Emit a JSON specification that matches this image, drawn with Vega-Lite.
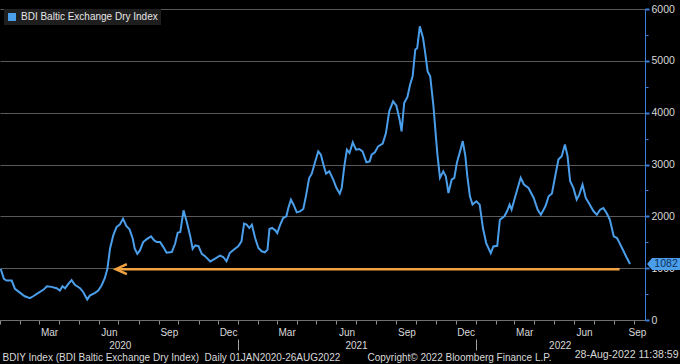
{
  "$schema": "https://vega.github.io/schema/vega-lite/v6.json",
  "width": 645,
  "height": 311,
  "autosize": {"type": "none"},
  "padding": {"left": 0, "top": 9, "right": 35, "bottom": 44},
  "background": "#000000",
  "config": {
    "view": {"stroke": null},
    "font": "Liberation Sans",
    "axis": {"labelFont": "Liberation Sans", "titleFont": "Liberation Sans"},
    "legend": {"labelFont": "Liberation Sans"}
  },
  "datasets": {
    "bdi": [
      {"date": "2020-01-02", "value": 990},
      {"date": "2020-01-07", "value": 794},
      {"date": "2020-01-11", "value": 761},
      {"date": "2020-01-19", "value": 761},
      {"date": "2020-01-24", "value": 600},
      {"date": "2020-02-01", "value": 523},
      {"date": "2020-02-08", "value": 458},
      {"date": "2020-02-16", "value": 420},
      {"date": "2020-02-21", "value": 458},
      {"date": "2020-02-29", "value": 523},
      {"date": "2020-03-08", "value": 587},
      {"date": "2020-03-13", "value": 652},
      {"date": "2020-03-20", "value": 639},
      {"date": "2020-03-28", "value": 613},
      {"date": "2020-04-02", "value": 568},
      {"date": "2020-04-06", "value": 652},
      {"date": "2020-04-10", "value": 613},
      {"date": "2020-04-15", "value": 697},
      {"date": "2020-04-20", "value": 768},
      {"date": "2020-04-25", "value": 678},
      {"date": "2020-05-03", "value": 613},
      {"date": "2020-05-08", "value": 536},
      {"date": "2020-05-14", "value": 394},
      {"date": "2020-05-18", "value": 471},
      {"date": "2020-05-26", "value": 523},
      {"date": "2020-05-31", "value": 568},
      {"date": "2020-06-05", "value": 665},
      {"date": "2020-06-10", "value": 806},
      {"date": "2020-06-14", "value": 987},
      {"date": "2020-06-18", "value": 1374},
      {"date": "2020-06-23", "value": 1632},
      {"date": "2020-06-28", "value": 1793},
      {"date": "2020-07-03", "value": 1839},
      {"date": "2020-07-08", "value": 1955},
      {"date": "2020-07-13", "value": 1813},
      {"date": "2020-07-18", "value": 1748},
      {"date": "2020-07-23", "value": 1568},
      {"date": "2020-07-26", "value": 1374},
      {"date": "2020-07-30", "value": 1277},
      {"date": "2020-08-03", "value": 1342},
      {"date": "2020-08-08", "value": 1503},
      {"date": "2020-08-13", "value": 1555},
      {"date": "2020-08-20", "value": 1613},
      {"date": "2020-08-25", "value": 1535},
      {"date": "2020-08-29", "value": 1503},
      {"date": "2020-09-03", "value": 1503},
      {"date": "2020-09-08", "value": 1406},
      {"date": "2020-09-13", "value": 1297},
      {"date": "2020-09-21", "value": 1310},
      {"date": "2020-09-26", "value": 1471},
      {"date": "2020-09-30", "value": 1684},
      {"date": "2020-10-04", "value": 1697},
      {"date": "2020-10-09", "value": 2116},
      {"date": "2020-10-14", "value": 1890},
      {"date": "2020-10-19", "value": 1632},
      {"date": "2020-10-23", "value": 1374},
      {"date": "2020-10-27", "value": 1439},
      {"date": "2020-11-01", "value": 1426},
      {"date": "2020-11-06", "value": 1277},
      {"date": "2020-11-11", "value": 1232},
      {"date": "2020-11-19", "value": 1129},
      {"date": "2020-11-26", "value": 1181},
      {"date": "2020-12-04", "value": 1241},
      {"date": "2020-12-09", "value": 1216},
      {"date": "2020-12-14", "value": 1132},
      {"date": "2020-12-19", "value": 1293},
      {"date": "2020-12-25", "value": 1357},
      {"date": "2021-01-01", "value": 1421},
      {"date": "2021-01-06", "value": 1518},
      {"date": "2021-01-10", "value": 1859},
      {"date": "2021-01-14", "value": 1839},
      {"date": "2021-01-18", "value": 1775},
      {"date": "2021-01-22", "value": 1839},
      {"date": "2021-01-27", "value": 1582},
      {"date": "2021-02-01", "value": 1389},
      {"date": "2021-02-06", "value": 1325},
      {"date": "2021-02-11", "value": 1306},
      {"date": "2021-02-15", "value": 1357},
      {"date": "2021-02-18", "value": 1756},
      {"date": "2021-02-22", "value": 1775},
      {"date": "2021-02-27", "value": 1730},
      {"date": "2021-03-02", "value": 1678},
      {"date": "2021-03-06", "value": 1820},
      {"date": "2021-03-11", "value": 1968},
      {"date": "2021-03-16", "value": 2000},
      {"date": "2021-03-19", "value": 2161},
      {"date": "2021-03-23", "value": 2322},
      {"date": "2021-03-27", "value": 2225},
      {"date": "2021-04-01", "value": 2077},
      {"date": "2021-04-06", "value": 2096},
      {"date": "2021-04-11", "value": 2141},
      {"date": "2021-04-15", "value": 2386},
      {"date": "2021-04-20", "value": 2739},
      {"date": "2021-04-24", "value": 2823},
      {"date": "2021-04-29", "value": 3042},
      {"date": "2021-05-04", "value": 3254},
      {"date": "2021-05-08", "value": 3190},
      {"date": "2021-05-12", "value": 2997},
      {"date": "2021-05-16", "value": 2823},
      {"date": "2021-05-21", "value": 2868},
      {"date": "2021-05-27", "value": 2707},
      {"date": "2021-06-01", "value": 2546},
      {"date": "2021-06-06", "value": 2437},
      {"date": "2021-06-09", "value": 2546},
      {"date": "2021-06-13", "value": 2965},
      {"date": "2021-06-17", "value": 3286},
      {"date": "2021-06-21", "value": 3222},
      {"date": "2021-06-26", "value": 3427},
      {"date": "2021-07-01", "value": 3286},
      {"date": "2021-07-06", "value": 3299},
      {"date": "2021-07-11", "value": 3254},
      {"date": "2021-07-17", "value": 3042},
      {"date": "2021-07-22", "value": 3061},
      {"date": "2021-07-25", "value": 3190},
      {"date": "2021-07-30", "value": 3235},
      {"date": "2021-08-04", "value": 3350},
      {"date": "2021-08-11", "value": 3402},
      {"date": "2021-08-16", "value": 3607},
      {"date": "2021-08-21", "value": 4025},
      {"date": "2021-08-27", "value": 4218},
      {"date": "2021-09-01", "value": 4135},
      {"date": "2021-09-06", "value": 3865},
      {"date": "2021-09-09", "value": 3640},
      {"date": "2021-09-13", "value": 4186},
      {"date": "2021-09-18", "value": 4302},
      {"date": "2021-09-22", "value": 4540},
      {"date": "2021-09-26", "value": 4701},
      {"date": "2021-09-30", "value": 5215},
      {"date": "2021-10-03", "value": 5247},
      {"date": "2021-10-07", "value": 5665},
      {"date": "2021-10-12", "value": 5440},
      {"date": "2021-10-15", "value": 5183},
      {"date": "2021-10-19", "value": 4797},
      {"date": "2021-10-23", "value": 4701},
      {"date": "2021-10-28", "value": 4122},
      {"date": "2021-11-01", "value": 3500},
      {"date": "2021-11-03", "value": 3200},
      {"date": "2021-11-07", "value": 2742},
      {"date": "2021-11-12", "value": 2868},
      {"date": "2021-11-16", "value": 2772},
      {"date": "2021-11-20", "value": 2450},
      {"date": "2021-11-25", "value": 2710},
      {"date": "2021-11-29", "value": 2742},
      {"date": "2021-12-03", "value": 3032},
      {"date": "2021-12-08", "value": 3258},
      {"date": "2021-12-12", "value": 3451},
      {"date": "2021-12-16", "value": 3161},
      {"date": "2021-12-19", "value": 2774},
      {"date": "2021-12-23", "value": 2387},
      {"date": "2021-12-27", "value": 2226},
      {"date": "2022-01-02", "value": 2290},
      {"date": "2022-01-07", "value": 2226},
      {"date": "2022-01-12", "value": 1774},
      {"date": "2022-01-17", "value": 1484},
      {"date": "2022-01-24", "value": 1290},
      {"date": "2022-01-28", "value": 1419},
      {"date": "2022-02-03", "value": 1432},
      {"date": "2022-02-07", "value": 1935},
      {"date": "2022-02-14", "value": 2000},
      {"date": "2022-02-18", "value": 2097},
      {"date": "2022-02-22", "value": 2226},
      {"date": "2022-02-25", "value": 2129},
      {"date": "2022-03-02", "value": 2355},
      {"date": "2022-03-08", "value": 2613},
      {"date": "2022-03-11", "value": 2742},
      {"date": "2022-03-16", "value": 2613},
      {"date": "2022-03-23", "value": 2548},
      {"date": "2022-03-31", "value": 2355},
      {"date": "2022-04-06", "value": 2129},
      {"date": "2022-04-11", "value": 2032},
      {"date": "2022-04-18", "value": 2193},
      {"date": "2022-04-23", "value": 2387},
      {"date": "2022-04-28", "value": 2439},
      {"date": "2022-05-03", "value": 2774},
      {"date": "2022-05-08", "value": 3097},
      {"date": "2022-05-13", "value": 3161},
      {"date": "2022-05-18", "value": 3387},
      {"date": "2022-05-22", "value": 3161},
      {"date": "2022-05-26", "value": 2677},
      {"date": "2022-05-31", "value": 2548},
      {"date": "2022-06-05", "value": 2323},
      {"date": "2022-06-09", "value": 2419},
      {"date": "2022-06-14", "value": 2613},
      {"date": "2022-06-19", "value": 2355},
      {"date": "2022-06-25", "value": 2226},
      {"date": "2022-07-01", "value": 2097},
      {"date": "2022-07-06", "value": 2032},
      {"date": "2022-07-11", "value": 2129},
      {"date": "2022-07-16", "value": 2161},
      {"date": "2022-07-21", "value": 2065},
      {"date": "2022-07-26", "value": 1935},
      {"date": "2022-08-01", "value": 1613},
      {"date": "2022-08-06", "value": 1581},
      {"date": "2022-08-10", "value": 1484},
      {"date": "2022-08-15", "value": 1355},
      {"date": "2022-08-20", "value": 1226},
      {"date": "2022-08-26", "value": 1082}
    ],
    "arrow": [{"start": "2020-06-27", "end": "2022-08-10", "level": 980}],
    "last": [{"date": "2022-08-26", "value": 1082, "label": "1082"}]
  },
  "layer": [
    {
      "data": {"name": "bdi"},
      "mark": {"type": "line", "strokeWidth": 2},
      "encoding": {
        "x": {
          "field": "date", "type": "temporal",
          "scale": {"type": "utc", "domain": [{"year": 2020, "month": 1, "date": 1, "utc": true}, {"year": 2022, "month": 9, "date": 18, "utc": true}]},
          "axis": {
            "orient": "bottom",
            "tickCount": {"interval": "month", "step": 1},
            "labelExpr": "indexof([2,5,8,11], utcmonth(datum.value)) >= 0 ? utcFormat(datum.value, '%b') : ''",
            "labelOffset": {"condition": {"test": "datum.value > utc(2022,6,1)", "value": 3}, "value": 10},
            "labelAlign": "center",
            "labelColor": "#d9d9d9", "labelFontSize": 10, "labelPadding": 3,
            "labelOverlap": false, "labelBound": false, "labelFlush": false,
            "tickColor": "#8c8c8c", "tickSize": 4, "tickWidth": 1,
            "domainColor": "#707070", "grid": false,
            "title": "BDIY Index (BDI Baltic Exchange Dry Index)\u00a0\u00a0Daily 01JAN2020-26AUG2022",
            "titleX": 2, "titleY": 40, "titleAlign": "left", "titleBaseline": "alphabetic",
            "titleFontSize": 10, "titleFontWeight": "normal", "titleColor": "#d9d9d9"
          }
        },
        "y": {
          "field": "value", "type": "quantitative",
          "scale": {"domain": [0, 6000], "nice": false},
          "axis": {
            "orient": "right", "values": [0, 1000, 2000, 3000, 4000, 5000, 6000], "format": "d",
            "grid": true, "gridColor": "#595959", "gridWidth": 1,
            "domainColor": "#3b7dd8", "domainWidth": 1,
            "tickColor": "#3b7dd8", "tickSize": 4, "tickWidth": 2,
            "labelColor": "#d9d9d9", "labelFontSize": 10.5, "labelPadding": 2,
            "title": "28-Aug-2022 11:38:59", "titleAngle": 0, "titleX": 33, "titleY": 348,
            "titleAlign": "right", "titleBaseline": "alphabetic",
            "titleFontSize": 10.5, "titleFontWeight": "normal", "titleColor": "#d9d9d9"
          }
        },
        "color": {
          "datum": "BDI Baltic Exchange Dry Index",
          "scale": {"range": ["#4a9eea"]},
          "legend": {
            "title": null, "orient": "none", "legendX": 4, "legendY": 0,
            "fillColor": "#1e1e1e", "padding": 3,
            "symbolType": "square", "symbolSize": 64, "symbolFillColor": "#4a9eea", "symbolStrokeWidth": 0,
            "labelColor": "#e6e6e6", "labelFontSize": 10, "labelOffset": 4
          }
        }
      }
    },
    {
      "data": {"name": "arrow"},
      "mark": {"type": "rule", "color": "#f2a341", "strokeWidth": 2.5},
      "encoding": {
        "x": {
          "field": "start", "type": "temporal", "scale": {"type": "utc"},
          "axis": {
            "orient": "bottom",
            "values": [{"year": 2020, "month": 7, "date": 3, "utc": true}, {"year": 2021, "month": 7, "date": 1, "utc": true}, {"year": 2022, "month": 5, "date": 10, "utc": true}],
            "labelExpr": "utcFormat(datum.value, '%Y')",
            "ticks": false, "domain": false, "grid": false,
            "labelPadding": 20, "labelColor": "#d9d9d9", "labelFontSize": 10,
            "labelOverlap": false, "labelBound": false, "labelFlush": false,
            "title": "Copyright\u00a9 2022 Bloomberg Finance L.P.",
            "titleX": 367, "titleY": 40, "titleAlign": "left", "titleBaseline": "alphabetic",
            "titleFontSize": 10, "titleFontWeight": "normal", "titleColor": "#d9d9d9"
          }
        },
        "x2": {"field": "end"},
        "y": {"field": "level", "type": "quantitative", "axis": null}
      }
    },
    {
      "data": {"name": "arrow"},
      "mark": {"type": "point", "shape": "M2.2,-1 L0,0 L2.2,1", "filled": false, "color": "#f2a341", "strokeWidth": 2.5, "size": 100, "opacity": 1},
      "encoding": {
        "x": {
          "field": "start", "type": "temporal", "scale": {"type": "utc"},
          "axis": {
            "orient": "bottom",
            "values": [{"year": 2021, "month": 1, "date": 1, "utc": true}, {"year": 2022, "month": 1, "date": 1, "utc": true}],
            "labels": false, "domain": false, "grid": false,
            "offset": 19, "tickSize": 11, "tickColor": "#a0a0a0", "title": null
          }
        },
        "y": {"field": "level", "type": "quantitative", "axis": null}
      }
    },
    {
      "data": {"name": "last"},
      "mark": {"type": "point", "shape": "M0,0 L5,-6 L33,-6 L33,6 L5,6 Z", "filled": true, "color": "#4a9eea", "size": 4, "opacity": 1, "xOffset": 17},
      "encoding": {
        "x": {"field": "date", "type": "temporal", "scale": {"type": "utc"}, "axis": null},
        "y": {
          "field": "value", "type": "quantitative",
          "axis": {
            "orient": "right", "values": [500, 1500, 2500, 3500, 4500, 5500],
            "labels": false, "domain": false, "grid": false,
            "tickSize": 3, "tickColor": "#3b7dd8", "tickWidth": 1, "title": null
          }
        }
      }
    },
    {
      "data": {"name": "last"},
      "mark": {"type": "text", "dx": 36, "align": "center", "baseline": "middle", "fontSize": 10.5, "color": "#10305a", "font": "Liberation Sans"},
      "encoding": {
        "x": {"field": "date", "type": "temporal", "scale": {"type": "utc"}, "axis": null},
        "y": {"field": "value", "type": "quantitative", "axis": null},
        "text": {"field": "label"}
      }
    }
  ],
  "resolve": {"axis": {"x": "independent", "y": "independent"}}
}
